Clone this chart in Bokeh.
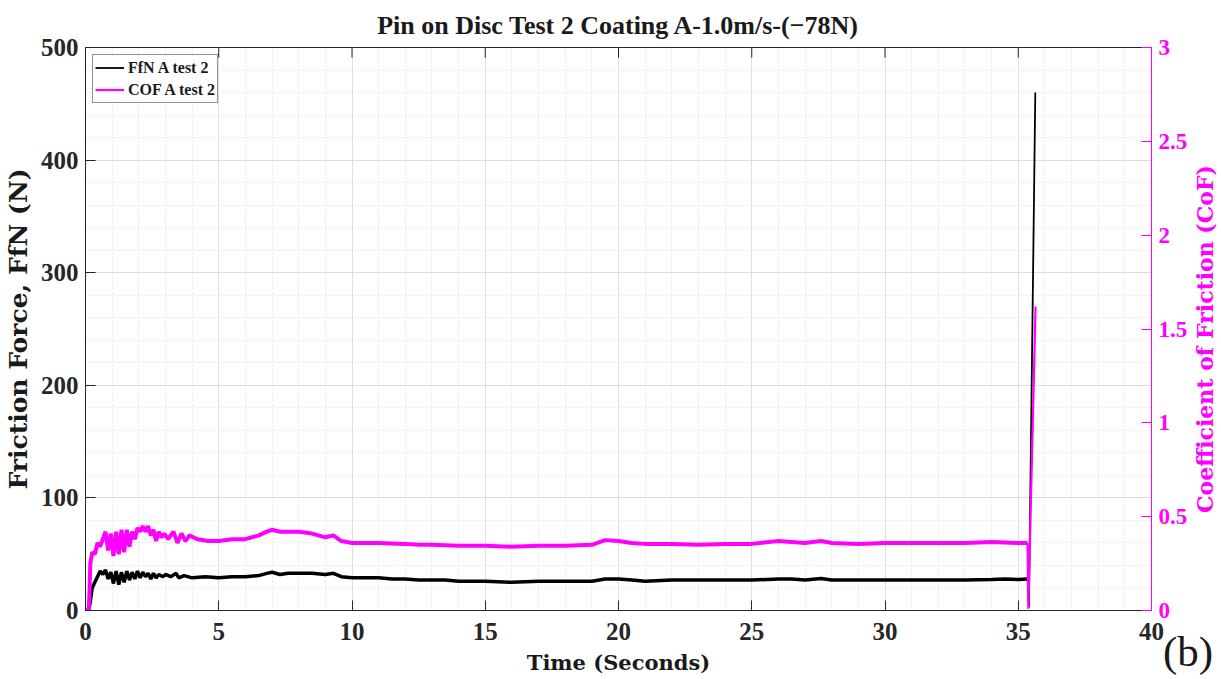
import math
from bokeh.plotting import figure
from bokeh.models import Range1d, LinearAxis, Legend, LegendItem, FixedTicker, Div
from bokeh.layouts import column
from bokeh.embed import file_html
from bokeh.resources import INLINE

# ---- data ----
t_ffn = [0.0, 0.12, 0.18, 0.25, 0.35, 0.45, 0.55, 0.65, 0.75, 0.85, 0.95, 1.05, 1.15, 1.25, 1.35,
         1.45, 1.55, 1.65, 1.75, 1.85, 1.95, 2.05, 2.15, 2.25, 2.35, 2.45, 2.55, 2.65, 2.75, 2.9,
         3.0, 3.2, 3.4, 3.5, 3.7, 4.0, 4.5, 5.0, 5.5, 6.0, 6.5, 6.8, 7.0, 7.3, 7.6, 8.0, 8.5, 9.0,
         9.3, 9.6, 10.0, 10.5, 11.0, 11.5, 12.0, 12.5, 13.0, 13.5, 14.0, 15.0, 16.0, 17.0, 18.0,
         19.0, 19.5, 20.0, 20.5, 21.0, 22.0, 23.0, 24.0, 25.0, 26.0, 26.5, 27.0, 27.6, 28.0, 29.0,
         30.0, 31.0, 32.0, 33.0, 34.0, 34.5, 35.0, 35.35, 35.40, 35.64]
ffn = [0, 0, 8, 20, 25, 30, 35, 32, 36, 28, 34, 24, 35, 23, 34,
       25, 35, 27, 34, 28, 35, 29, 34, 30, 33, 28, 33, 29, 32, 30,
       32, 30, 33, 29, 31, 29, 30, 29, 30, 30, 31, 33, 34, 32, 33, 33, 33, 32,
       33, 30, 29, 29, 29, 28, 28, 27, 27, 27, 26, 26, 25, 26, 26,
       26, 28, 28, 27, 26, 27, 27, 27, 27, 28, 28, 27, 28.5, 27, 27,
       27, 27, 27, 27, 27.5, 28, 27.5, 28, 3, 460]

t_cof = [0.0, 0.12, 0.15, 0.18, 0.25, 0.35, 0.45, 0.55, 0.65, 0.75, 0.85, 0.95, 1.05, 1.15, 1.25,
         1.35, 1.45, 1.55, 1.65, 1.75, 1.85, 1.95, 2.05, 2.15, 2.25, 2.35, 2.45, 2.55, 2.65, 2.75,
         2.85, 2.95, 3.1, 3.3, 3.45, 3.6, 3.75, 3.9, 4.2, 4.6, 5.0, 5.5, 6.0, 6.5, 6.8, 7.0, 7.3,
         7.6, 8.0, 8.5, 9.0, 9.3, 9.6, 10.0, 10.5, 11.0, 12.0, 12.5, 13.0, 14.0, 15.0, 16.0, 17.0,
         18.0, 19.0, 19.5, 20.0, 20.5, 21.0, 22.0, 23.0, 24.0, 25.0, 26.0, 26.5, 27.0, 27.6, 28.0,
         29.0, 30.0, 31.0, 32.0, 33.0, 34.0, 35.0, 35.35, 35.38, 35.65]
cof = [0, 0, 0.1, 0.25, 0.31, 0.30, 0.36, 0.34, 0.38, 0.42, 0.32, 0.41, 0.29, 0.42, 0.30,
       0.43, 0.31, 0.43, 0.34, 0.42, 0.38, 0.44, 0.42, 0.45, 0.42, 0.45, 0.40, 0.43, 0.37, 0.42,
       0.39, 0.41, 0.38, 0.42, 0.36, 0.41, 0.37, 0.40, 0.38, 0.37, 0.37, 0.38, 0.38, 0.40, 0.42, 0.43, 0.42,
       0.42, 0.42, 0.41, 0.39, 0.40, 0.37, 0.36, 0.36, 0.36, 0.355, 0.35, 0.35, 0.345, 0.345, 0.34, 0.345,
       0.345, 0.35, 0.375, 0.37, 0.36, 0.355, 0.355, 0.35, 0.355, 0.355, 0.37, 0.365, 0.36, 0.37, 0.36,
       0.355, 0.36, 0.36, 0.36, 0.36, 0.365, 0.36, 0.36, 0.01, 1.62]

x_ticks = [0, 5, 10, 15, 20, 25, 30, 35, 40]
y_ticks = [0, 100, 200, 300, 400, 500]
cof_ticks = [0, 0.5, 1, 1.5, 2, 2.5, 3]

TICKFONT = "Liberation Serif"
LABFONT = "DejaVu Serif"
MAG = "#ff00ff"
DARK = "#262626"
W, H = 1221, 679

p = figure(width=W, height=H, output_backend="svg", toolbar_location=None,
           x_range=Range1d(0, 40), y_range=Range1d(0, 500),
           min_border_left=85, min_border_right=70, min_border_top=47, min_border_bottom=69)
p.extra_y_ranges = {"cof": Range1d(0, 3)}

p.title.text = "Pin on Disc Test 2 Coating A-1.0m/s-(\u221278N)"
p.title.align = "center"
p.title.text_font = TICKFONT
p.title.text_font_size = "26px"
p.title.text_font_style = "bold"
p.title.text_color = "#1a1a1a"
p.title.standoff = 15

for ax in (p.xaxis[0], p.yaxis[0]):
    ax.major_label_text_font = TICKFONT
    ax.major_label_text_font_size = "25px"
    ax.major_label_text_font_style = "bold"
    ax.major_label_text_color = DARK
    ax.axis_label_text_font = LABFONT
    ax.axis_label_text_font_style = "bold"
    ax.axis_label_text_color = "#1a1a1a"
    ax.major_tick_in = 10
    ax.major_tick_out = 0
    ax.minor_tick_line_color = None
    ax.axis_line_color = DARK
    ax.major_tick_line_color = DARK

p.xaxis[0].ticker = FixedTicker(ticks=x_ticks, minor_ticks=list(range(0, 41)))
p.yaxis[0].ticker = FixedTicker(ticks=y_ticks, minor_ticks=list(range(0, 501, 20)))
p.xaxis[0].axis_label = "Time (Seconds)"
p.yaxis[0].axis_label = "Friction Force, FfN (N)"
p.xaxis[0].axis_label_text_font_size = "21px"
p.yaxis[0].axis_label_text_font_size = "25px"
p.xaxis[0].major_label_standoff = 8
p.xaxis[0].axis_label_standoff = 7
p.yaxis[0].major_label_standoff = 3
p.yaxis[0].axis_label_standoff = 5

p.xgrid.grid_line_color = "#dedede"
p.ygrid.grid_line_color = "#dedede"
p.xgrid.minor_grid_line_color = "#e6e6e6"
p.ygrid.minor_grid_line_color = "#e6e6e6"
p.xgrid.minor_grid_line_dash = "2 2"
p.ygrid.minor_grid_line_dash = "2 2"

p.outline_line_color = DARK
p.outline_line_width = 1

# inward tick marks along the top edge (box on)
p.segment(x0=x_ticks, y0=[500] * len(x_ticks), x1=x_ticks, y1=[491] * len(x_ticks),
          line_color=DARK, line_width=1)

right = LinearAxis(y_range_name="cof", ticker=FixedTicker(ticks=cof_ticks))
right.major_label_text_font = TICKFONT
right.major_label_text_font_size = "23px"
right.major_label_text_font_style = "bold"
right.major_label_text_color = MAG
right.axis_line_color = MAG
right.major_tick_line_color = MAG
right.major_tick_in = 10
right.major_tick_out = 0
right.minor_tick_line_color = None
right.major_label_standoff = 7
p.add_layout(right, "right")

# steady part of each record drawn as a band, the final spike as a thin trace
p.line(t_ffn[:-2], ffn[:-2], line_color="black", line_width=3.5)
s1 = p.line(t_ffn[-3:], ffn[-3:], line_color="black", line_width=1.8)
p.line(t_cof[:-2], cof[:-2], line_color=MAG, line_width=4, y_range_name="cof")
s2 = p.line(t_cof[-3:], cof[-3:], line_color=MAG, line_width=2.2, y_range_name="cof")

legend = Legend(items=[LegendItem(label="FfN A test 2", renderers=[s1]),
                       LegendItem(label="COF A test 2", renderers=[s2])],
                location="top_left")
legend.label_text_font = TICKFONT
legend.label_text_font_size = "16px"
legend.label_text_font_style = "bold"
legend.label_text_color = "#1a1a1a"
legend.border_line_color = DARK
legend.border_line_width = 1
legend.padding = 2
legend.spacing = 1
legend.margin = 7
legend.glyph_width = 29
legend.glyph_height = 21
legend.label_height = 21
legend.label_standoff = 4
p.add_layout(legend, "center")

# right-hand axis title (reads bottom-to-top) and panel letter, overlaid as real text
overlay_html = (
    f'<div style="position:relative;width:{W}px;height:{H}px;">'
    '<span style="position:absolute;left:1205px;top:339px;transform:translate(-50%,-50%) rotate(-90deg);'
    f'white-space:nowrap;font-family:\'{LABFONT}\';font-weight:bold;font-size:22px;color:{MAG};line-height:1;">'
    'Coefficient of Friction (CoF)</span>'
    '<span style="position:absolute;left:1163px;top:630px;white-space:nowrap;'
    f'font-family:\'{TICKFONT}\';font-size:43px;color:#1a1a1a;line-height:1;">(b)</span>'
    '</div>'
)
overlay = Div(text=overlay_html, width=W, height=H, margin=(-H, 0, 0, 0),
              styles={"position": "relative", "z-index": "10", "pointer-events": "none"})

open("out.html", "w").write(file_html(column(p, overlay), INLINE))
